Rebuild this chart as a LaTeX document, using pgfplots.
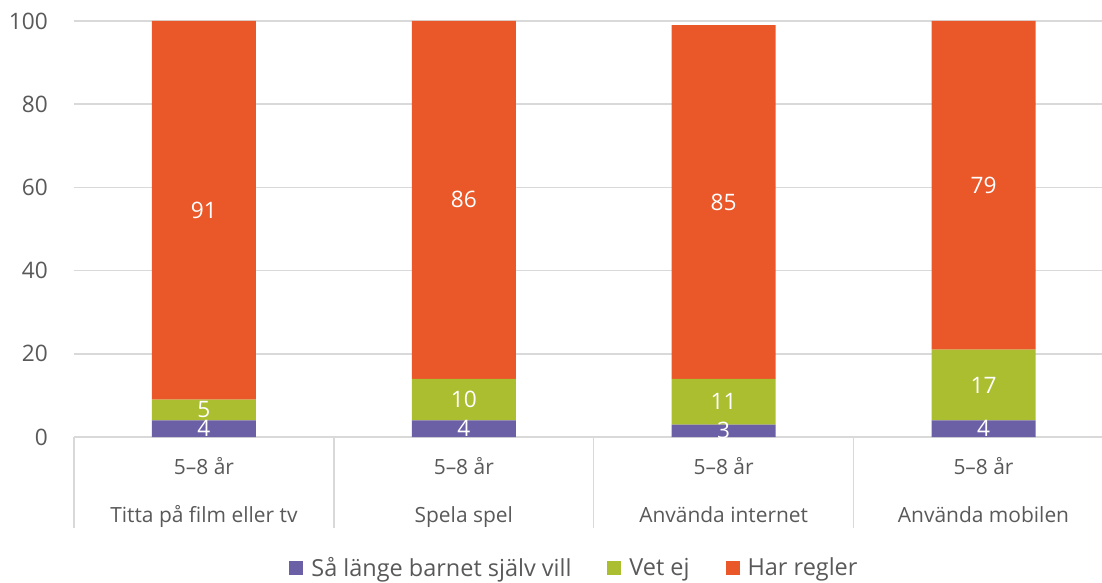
\documentclass[border=0pt]{standalone}
\usepackage{pgfplots}
\pgfplotsset{compat=1.18}
\usepackage{fontspec}
\setmainfont{Open Sans}
\definecolor{cPurple}{HTML}{6B5FA6}
\definecolor{cGreen}{HTML}{AABE2F}
\definecolor{cOrange}{HTML}{EA5729}
\definecolor{cGrid}{HTML}{D9D9D9}
\definecolor{cText}{HTML}{595959}
\pgfplotsset{sqlegend/.style={legend image code/.code={\fill[##1,draw=none] (0pt,-5.25pt) rectangle (10.5pt,5.25pt);}}}
\pgfplotstableread{
x v
0 4
1 4
2 3
3 4
}\tabA
\pgfplotstableread{
x v
0 5
1 10
2 11
3 17
}\tabB
\pgfplotstableread{
x v
0 91
1 86
2 85
3 79
}\tabC
\begin{document}
\begin{tikzpicture}
\begin{axis}[
  at={(0pt,0pt)}, anchor=south west,
  scale only axis, width=779.6pt, height=312pt,
  xmin=-0.5, xmax=3.5, ymin=0, ymax=100,
  ybar stacked, bar width=78pt,
  clip=false,
  axis line style={draw=none},
  major tick length=0pt,
  ytick={0,20,...,100},
  ymajorgrids, grid style={cGrid, line width=1.1pt},
  /pgf/number format/assume math mode=true,
  yticklabel style={font=\fontsize{17}{20}\selectfont, text=cText, inner sep=0pt, anchor=east, xshift=-19.5pt},
  xtick={0,1,2,3},
  xticklabels={{5–8 år\\[18pt]Titta på film eller tv},{5–8 år\\[18pt]Spela spel},{5–8 år\\[18pt]Använda internet},{5–8 år\\[18pt]Använda mobilen}},
  xticklabel style={font=\fontsize{15.7}{18}\selectfont, text=cText, align=center, inner sep=0pt, anchor=north, yshift=-15pt},
  nodes near coords,
  every node near coord/.append style={font=\fontsize{17}{19}\selectfont, text=white, anchor=center},
  legend style={at={(0.4805,-0.315)}, anchor=center, draw=none, legend columns=-1,
    font=\fontsize{17.6}{20}\selectfont, text=cText, inner sep=0pt,
    /tikz/every even column/.append style={column sep=27pt},
    nodes={inner sep=0pt, text=cText},
    /tikz/every odd column/.append style={column sep=6pt}},
  legend cell align=left,
]
\addplot[fill=cPurple, draw=none, sqlegend, point meta=explicit] table[x=x, y=v, meta=v] {\tabA};
\addplot[fill=cGreen, draw=none, sqlegend, point meta=explicit] table[x=x, y=v, meta=v] {\tabB};
\addplot[fill=cOrange, draw=none, sqlegend, point meta=explicit] table[x=x, y=v, meta=v] {\tabC};
\legend{Så länge barnet själv vill, Vet ej, Har regler}
\pgfplotsinvokeforeach{-0.5,0.5,1.5,2.5}{
  \draw[cGrid, line width=1.1pt] (axis cs:#1,0) -- ++(0pt,-68.25pt);
}
\end{axis}
\pgfresetboundingbox
\useasboundingbox (-55.5pt,-108.75pt) rectangle (771pt,327.75pt);
\end{tikzpicture}
\end{document}
